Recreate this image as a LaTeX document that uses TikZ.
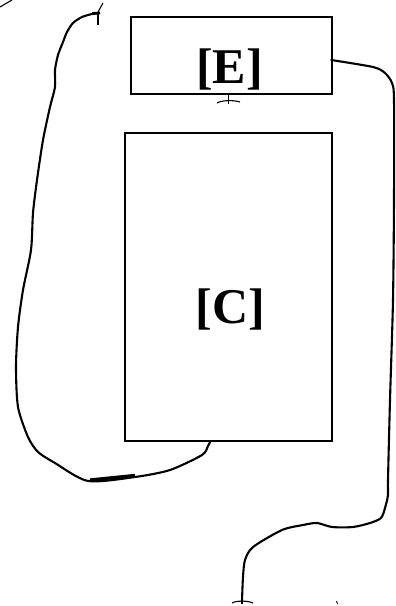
\documentclass[tikz,border=0pt]{standalone}
\usepackage{fontspec}
\setmainfont{Liberation Serif}
\usetikzlibrary{calc}
\begin{document}
\begin{tikzpicture}[x=1pt,y=-1pt,
  boxnode/.style={draw=black, line width=2.4pt, inner sep=0pt, fill=white},
  lbl/.style={font=\fontsize{50}{50}\selectfont\bfseries, inner sep=0pt, anchor=base},
  wire/.style={draw=black, line width=2.1pt, line join=round, line cap=round},
  thin/.style={draw=black, line width=1.1pt}]
\useasboundingbox (0,0) rectangle (396,606);
\node[boxnode, minimum width=201pt, minimum height=77pt] (E) at (231.5,55.5) {};
\node[boxnode, minimum width=207pt, minimum height=308pt] (C) at (228.5,287) {};
\node[lbl] (Elbl) at (229.5,83.5) {[E]};
\node[lbl] (Clbl) at (230.5,323.5) {[C]};
\coordinate (cstart) at ($(C.south)+(-18.5,0)$);
\coordinate (lend) at (99,13);
\coordinate (estart) at ($(E.east)+(-2,4.5)$);
\coordinate (rend) at (242,601);
\coordinate (etee) at ($(E.south)+(-3,0)$);
% left curve
\draw[wire] plot[smooth, tension=0.45] coordinates {(cstart) (208,446) (202,455) (170,470) (135,477) (88,481) (55,463) (38,452) (28,437) (18,407) (16,367) (18,327) (23,290) (31,250) (33,213) (37,180) (43,140) (50,107) (55,87) (55,70) (58,55) (63,42) (67,32) (73,23) (82,17) (92,14) (lend)};
\draw[draw=black, line width=3.3pt] (90,480) -- (135,475.5);
\draw[draw=black, line width=2.8pt] (92,13.5) -- (100,13);
\draw[thin] (98,12) -- (98,25);
\draw[thin] (98,12) -- (103,3);
% right curve
\draw[wire] plot[smooth, tension=0.45] coordinates {(estart) (373,67) (385,73) (392,83) (394,100) (394,200) (393,300) (390,400) (388,480) (388,495) (385,508) (381,518) (370,523) (353,527) (332,527) (317,523) (303,525) (282,530) (253,547) (245,560) (243,577) (rend)};
\draw[thin] (232,603) .. controls (236,600.5) and (248,600.5) .. (253,603);
\draw[draw=black, line width=2pt] (242,596) -- (242,604);
\draw[draw=black, line width=0.8pt] (336.5,601) -- (337.5,604);
% tee under E
\draw[draw=black, line width=1.7pt] (etee) -- ++(0,9);
\draw[thin] (217,103) .. controls (222,100) and (234,100) .. (240,102);
% top-left stroke
\draw[thin] (0,7) -- (12,0);
\end{tikzpicture}
\end{document}
